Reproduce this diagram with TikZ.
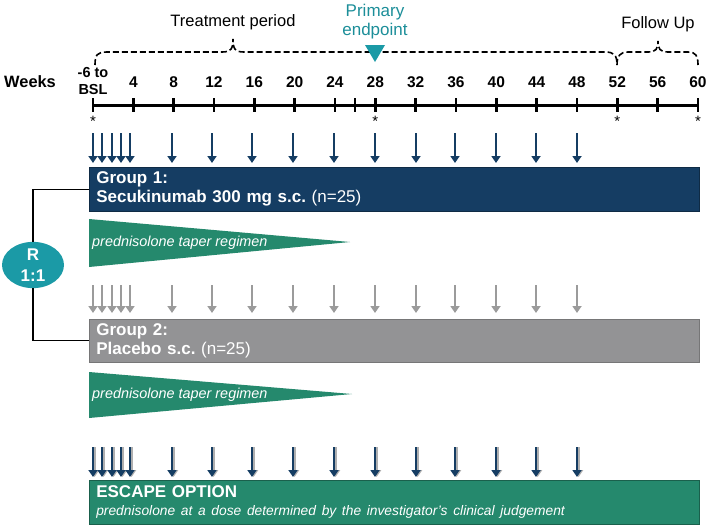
\documentclass[tikz,border=0pt]{standalone}
\usepackage{fontspec}
\setmainfont{Liberation Sans}
\usetikzlibrary{shapes.geometric,arrows.meta}
\definecolor{navy}{HTML}{153D63}
\definecolor{grn}{HTML}{25896D}
\definecolor{tealR}{HTML}{1B9AA6}
\definecolor{tealtxt}{HTML}{1C8E99}
\definecolor{boxgray}{HTML}{939395}
\definecolor{arrgray}{HTML}{9B9B9B}
\begin{document}
\frenchspacing
\begin{tikzpicture}[x=1pt,y=-1pt,
  axisline/.style={line width=3pt, black},
  tickmark/.style={line width=2.6pt, black},
  wklabel/.style={font=\fontsize{15.5}{17}\selectfont\bfseries, inner sep=0pt, align=center},
  star/.style={font=\fontsize{15}{15}\selectfont, inner sep=0pt},
  bracepath/.style={dash pattern=on 6pt off 3pt, line width=1.6pt, black},
  toptext/.style={font=\fontsize{16.5}{19}\selectfont, inner sep=0pt, align=center},
  doseN/.style={draw=navy, line width=2.9pt, -{Triangle[width=9pt,length=7pt]}},
  doseG/.style={draw=arrgray, line width=2.9pt, -{Triangle[width=9pt,length=7pt]}},
  doseS/.style={draw=arrgray!80, line width=2.9pt, -{Triangle[width=9pt,length=7pt]}},
  groupbox/.style={rectangle, anchor=north west, minimum width=610pt, text width=596pt,
    inner xsep=7pt, inner ysep=0pt, align=left, text=white, font=\fontsize{17}{19}\selectfont},
  tapertext/.style={anchor=west, inner sep=0pt, text=white, font=\fontsize{14.4}{16}\selectfont\itshape},
  conn/.style={line width=1.3pt, black}
]
\useasboundingbox (0,0) rectangle (709,525);

% ---- top labels and braces ----
\node[toptext] (treat) at (233,22) {Treatment period};
\node[toptext] (follow) at (658,24) {Follow Up};
\node[toptext, text=tealtxt, font=\fontsize{17}{19}\selectfont] (prim) at (375,21.5) {Primary\\endpoint};

\draw[bracepath] (95,65) .. controls (95,55) and (97,52) .. (107,52) -- (222,52)
  .. controls (231,52) and (233,49) .. (233,39)
  .. controls (233,49) and (235,52) .. (244,52) -- (605,52)
  .. controls (614,52) and (617,55) .. (617,65);
\draw[bracepath] (617,65) .. controls (617,56) and (620,52) .. (628,52) -- (648,52)
  .. controls (656,52) and (658,49) .. (658,41)
  .. controls (658,49) and (660,52) .. (668,52) -- (688,52)
  .. controls (696,52) and (698,56) .. (698,65);
\fill[tealR] (365,45) -- (385,45) -- (375,62) -- cycle;

% ---- timeline ----
\node[font=\fontsize{16.4}{18}\selectfont\bfseries, anchor=west, inner sep=0pt] (weeks) at (4,82) {Weeks};
\draw[axisline] (93,105) -- (698,105);
\foreach \w in {0,4,8,12,16,20,24,26,28,32,36,40,44,48,52,56,60}{
  \draw[tickmark] ({93+10.083*\w},98) -- ({93+10.083*\w},112);
}
\node[wklabel, font=\fontsize{14.5}{17.5}\selectfont\bfseries] (bsl) at (93,81) {-6 to\\BSL};
\foreach \w in {4,8,12,16,20,24,28,32,36,40,44,48,52,56,60}{
  \node[wklabel] (wk\w) at ({93+10.083*\w},82) {\w};
}
\foreach \w in {0,28,52,60}{
  \node[star] (st\w) at ({93+10.083*\w},121) {*};
}

% ---- dose x positions ----
\def\doses{93,102,112,121,130,172,212,252,293,334,375,416,455,496,536,577}

% ---- Group 1 ----
\foreach \x in \doses { \draw[doseN] (\x,133) -- (\x,163); }
\node[groupbox, fill=navy, draw=navy!70!black, line width=0.6pt, minimum height=44pt] (g1) at (89,167)
  {{\bfseries Group 1:}\\{\bfseries Secukinumab 300 mg s.c.} (n=25)};
\fill[grn] (89,219) -- (350,242) -- (89,267) -- cycle;
\node[tapertext] (taper1) at (92,243) {prednisolone taper regimen};

% ---- randomisation ----
\node[ellipse, fill=tealR, minimum width=62pt, minimum height=41pt, inner sep=0pt,
  text=white, align=center, font=\fontsize{17}{21}\selectfont\bfseries] (R) at (33,265) {R\\1:1};

% ---- Group 2 ----
\foreach \x in \doses { \draw[doseG] (\x,285) -- (\x,313); }
\node[groupbox, fill=boxgray, draw=boxgray!80!black, line width=0.6pt, minimum height=43pt] (g2) at (89,319)
  {{\bfseries Group 2:}\\{\bfseries Placebo s.c.} (n=25)};
\fill[grn] (89,372) -- (352,394) -- (89,418) -- cycle;
\node[tapertext] (taper2) at (92,395) {prednisolone taper regimen};

\draw[conn] (g1.west) -| (R.north);
\draw[conn] (R.south) |- (g2.west);

% ---- escape ----
\foreach \x in \doses {
  \draw[doseS] (\x+1.6,447) -- (\x+1.6,477);
  \draw[doseN] (\x,447) -- (\x,477);
}
\node[groupbox, fill=grn, draw=grn!70!black, line width=0.6pt, minimum height=44pt] (esc) at (89,480)
  {{\bfseries ESCAPE OPTION}\\[-1pt]{\fontsize{13.8}{16}\selectfont\itshape prednisolone at a dose determined by the investigator's clinical judgement}};
\end{tikzpicture}
\end{document}
